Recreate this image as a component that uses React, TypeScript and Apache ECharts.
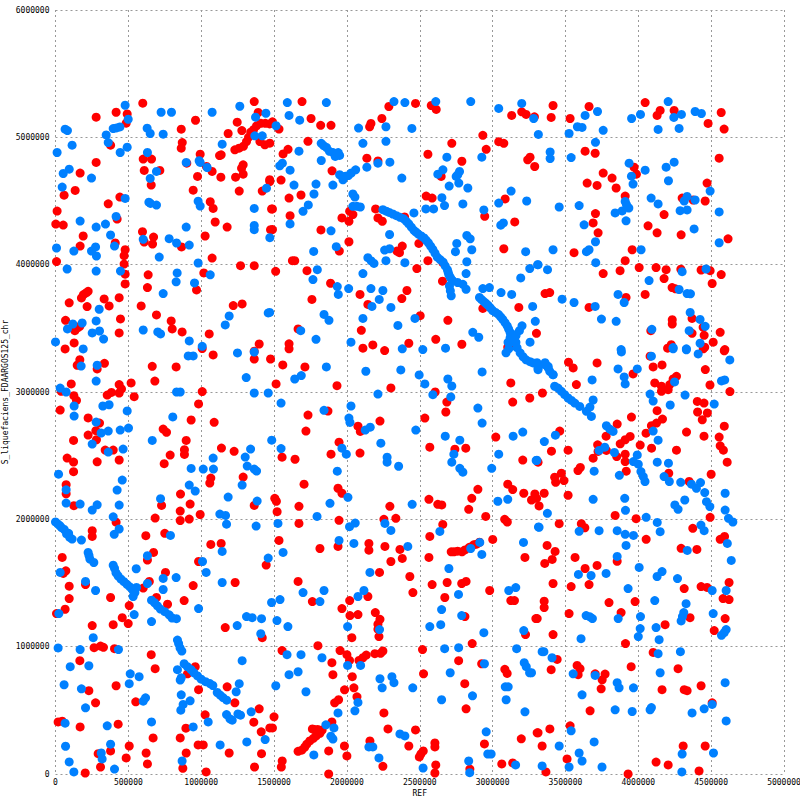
import React, { useEffect, useRef } from "react";
import * as echarts from "echarts";

// all positions are in kilobases: [REF, S_liquefaciens_FDAARGOS125_chr]
const redTopLeft = [[279,5158],[416,5197],[492,5184],[485,5111],[599,5268],[961,5134],[863,5064],[378,4938],[870,4959],[863,4915],[993,4868],[279,4803],[602,4829],[659,4829],[609,4740],[716,4740],[169,4719],[657,4625],[975,4693],[901,4797],[1126,4857],[1137,4863],[135,4583],[59,4546],[442,4531],[362,4478],[945,4585],[1062,4494],[1082,4442],[11,4421],[423,4358],[2,4319],[53,4311],[1096,4335],[1178,4295],[190,4225],[597,4259],[410,4170],[169,4146],[673,4217],[609,4178],[666,4162],[1027,4225],[865,4139],[478,4118],[471,4071],[471,4005],[7,4024],[1075,4052],[1270,3992],[1364,3992],[1364,5281],[1247,5119],[1185,5030],[1391,5195],[1279,5053],[1231,4902],[1260,4915],[1290,4930],[1311,4967],[1325,5000],[1340,5040],[1359,5060],[1380,5090],[1410,5110],[1440,5110],[1470,5105],[1403,4967],[1437,4941],[1471,4954],[1288,4784],[1277,4758],[1288,4711],[1236,4687],[1261,4578],[1419,4578],[1471,4653],[1483,4437],[1476,4275],[1075,4732],[1036,4771],[1135,4687]];
const blueTopLeft = [[478,5252],[499,5142],[66,5064],[82,5053],[396,5069],[419,5074],[442,5082],[629,5072],[650,5030],[739,5025],[348,5019],[362,4959],[725,5197],[796,5197],[1075,5197],[1265,5244],[1373,5158],[1444,5189],[114,4938],[11,4881],[444,4881],[492,4923],[631,4881],[1144,4946],[1368,5012],[1419,5012],[897,4803],[986,4816],[993,4803],[1041,4763],[693,4732],[650,4677],[53,4716],[94,4750],[247,4680],[46,4609],[478,4520],[641,4491],[652,4481],[693,4468],[979,4499],[993,4460],[1364,4442],[1448,4601],[169,4342],[416,4379],[343,4319],[279,4295],[897,4295],[1364,4308],[1364,4275],[378,4233],[602,4199],[780,4204],[831,4170],[918,4154],[1471,4212],[275,4139],[247,4107],[281,4068],[126,4107],[7,4131],[405,4146],[712,4060],[979,4013],[80,3966],[279,3950],[446,3950]];
const redMidLeft = [[478,3925],[636,3920],[478,3849],[631,3820],[1018,3935],[968,3802],[178,3739],[192,3765],[210,3778],[224,3791],[94,3700],[217,3671],[334,3731],[437,3741],[368,3676],[588,3676],[693,3605],[794,3558],[801,3495],[869,3472],[1220,3679],[1281,3692],[69,3563],[446,3574],[437,3464],[1055,3456],[167,3516],[133,3482],[151,3503],[128,3385],[66,3338],[1007,3341],[1364,3259],[1364,3320],[1398,3377],[1082,3291],[1476,3259],[167,3254],[149,3210],[286,3181],[336,3225],[664,3202],[828,3197],[682,3086],[108,3063],[437,3058],[453,3024],[437,2992],[384,2997],[355,2976],[519,3071],[540,2963],[39,3005],[126,2971],[144,2934],[1007,3003],[982,2906],[32,2858],[224,2796],[302,2756],[277,2696],[224,2662],[281,2625],[124,2620],[931,2780],[1089,2762],[739,2709],[762,2683],[897,2620],[1139,2560],[1226,2534],[885,2547],[885,2510],[787,2505],[341,2544],[396,2544],[437,2466],[286,2452],[746,2437],[80,2481],[124,2450],[124,2374],[1066,2324],[1059,2285],[1288,2332],[73,2272],[73,2201],[858,2198],[728,2109],[924,2120],[1364,2109],[126,2107],[856,2065],[684,2010],[856,1991],[918,2002],[993,2038],[416,1978]];
const blueMidLeft = [[835,3935],[828,3865],[954,3857],[1062,3920],[739,3773],[300,3650],[119,3534],[183,3542],[279,3558],[82,3495],[252,3464],[302,3479],[330,3416],[602,3487],[702,3472],[721,3456],[918,3401],[0,3393],[190,3338],[1007,3359],[911,3283],[945,3283],[1249,3307],[1364,3314],[1165,3527],[1192,3597],[1460,3621],[176,3204],[286,3210],[279,3086],[1309,3113],[32,3031],[73,3000],[831,3000],[856,3000],[1364,2992],[1460,2992],[128,2890],[325,2890],[368,2900],[492,2851],[128,2811],[805,2804],[279,2764],[313,2678],[362,2693],[444,2701],[501,2717],[664,2620],[252,2591],[362,2528],[464,2552],[1339,2552],[1302,2489],[1082,2481],[1316,2418],[1364,2395],[1380,2379],[21,2355],[931,2400],[1014,2395],[1084,2395],[458,2308],[918,2269],[959,2222],[1281,2269],[423,2230],[73,2232],[1185,2175],[721,2162],[1384,2143],[73,2128],[169,2120],[286,2114],[252,2073],[437,2112],[396,2020],[1128,2041],[1167,2031],[1174,1962],[1377,1947]];
const blueLowerLeft = [[0,1980],[15,1965],[30,1950],[41,1935],[60,1920],[76,1885],[90,1890],[98,1858],[114,1845],[178,1837],[403,1882],[437,1924],[789,1874],[224,1740],[230,1715],[236,1688],[263,1661],[396,1640],[405,1615],[415,1580],[430,1555],[450,1530],[470,1510],[490,1490],[510,1470],[530,1445],[545,1425],[533,1394],[556,1465],[631,1714],[554,1612],[631,1496],[739,1536],[828,1543],[739,1449],[32,1583],[206,1512],[275,1441],[1009,1669],[1034,1583],[1144,1748],[1144,1504],[1460,1696],[540,1252],[23,1260],[659,1197],[982,1299],[659,1365],[680,1345],[700,1320],[720,1295],[750,1275],[780,1250],[800,1225],[830,1220],[1247,1166],[1311,1236],[1350,1228],[1414,1220],[1483,1347],[259,1071],[1409,1102],[837,1052],[845,1025],[855,990],[867,965],[18,990],[169,977],[432,977],[101,843],[229,850],[513,787],[574,764],[506,709],[1281,890],[883,866],[905,843],[930,820],[950,795],[975,770],[1000,745],[1030,725],[1060,710],[1080,695],[837,819],[863,756],[856,738],[59,701],[178,669],[1261,709],[1240,646],[1110,640],[1130,620],[1150,600],[1175,580],[863,622],[924,575],[876,546],[860,501],[602,572],[618,598],[206,520],[1174,467],[1197,433],[1213,423],[1252,472],[1270,462],[1343,488],[66,399],[355,378],[659,409],[1048,409],[945,370],[1439,270],[1313,252],[1130,228],[69,218],[378,234],[314,165],[320,118],[94,95],[126,16],[405,39],[869,102]];
const redLowerLeft = [[252,1911],[252,1866],[620,1872],[750,1890],[1066,1803],[1137,1811],[46,1701],[71,1596],[53,1575],[631,1680],[673,1740],[982,1669],[1446,1641],[755,1583],[644,1512],[602,1460],[206,1488],[94,1475],[945,1480],[1233,1504],[94,1378],[378,1386],[693,1386],[883,1362],[769,1333],[506,1323],[66,1294],[7,1260],[458,1228],[252,1166],[396,1173],[499,1181],[1165,1150],[1419,1071],[265,992],[309,1005],[329,995],[405,984],[657,937],[167,890],[684,827],[959,843],[906,787],[1178,685],[982,662],[229,654],[416,693],[275,559],[551,567],[1231,559],[1398,512],[1027,465],[1361,407],[18,409],[46,415],[430,391],[169,370],[895,360],[1412,331],[1471,362],[670,283],[856,283],[506,220],[979,228],[1014,228],[378,181],[293,160],[485,126],[622,165],[897,165],[1192,165],[1414,160],[309,55],[631,79],[874,45],[1366,55],[204,8],[1034,16]];
const blueTopMiddle = [[1591,5273],[1859,5273],[1603,5172],[1676,5135],[1514,5091],[2323,5281],[2398,5273],[2610,5281],[2850,5281],[3042,5227],[3200,5266],[3282,5148],[2080,5073],[2268,5083],[2446,5070],[3314,5023],[2110,4953],[2268,4969],[1671,4891],[1824,4953],[1840,4935],[1860,4920],[1880,4890],[1905,4880],[1925,4870],[1950,4858],[1940,4880],[1920,4850],[1824,4818],[2686,4844],[2926,4844],[2137,4766],[2213,4797],[2295,4805],[1539,4776],[1557,4797],[1610,4742],[1950,4706],[1970,4690],[1990,4695],[2010,4700],[2030,4720],[2060,4745],[1973,4667],[2377,4680],[2624,4711],[2659,4745],[2761,4706],[2773,4732],[2750,4693],[2768,4641],[2702,4617],[2830,4602],[1637,4625],[1788,4633],[1904,4625],[1774,4555],[3127,4578],[2041,4555],[2055,4531],[2041,4458],[2069,4458],[2092,4453],[3042,4484],[3234,4500],[2652,4526],[2670,4464],[2796,4477],[1735,4469],[1699,4419],[2542,4438],[2595,4438],[2460,4406],[2940,4430],[1610,4320],[1891,4266],[1927,4141],[1772,4104],[2293,4237],[2823,4229],[2846,4203],[2754,4167],[2745,4102],[2857,4117],[3056,4310],[3074,4328],[3227,4102],[2823,4023],[2818,3930],[3193,3896],[3255,3969],[3309,4000],[2259,4115],[2293,4125],[2144,4055],[2167,4029],[2186,4010],[2268,4031],[2398,4016],[1797,3961],[1767,3883],[2110,3930],[1934,3828],[1941,3766],[2012,3812],[2165,3812],[2247,3797],[2222,3727],[2172,3672],[2302,3664],[1843,3609],[1877,3563],[2110,3578],[2467,3578],[2350,3523],[1683,3482],[1788,3414],[2028,3391],[2380,3339],[2521,3333],[2677,3344],[2933,3812],[2978,3820],[3058,3781],[3131,3766],[3275,3672],[3293,3555],[3257,3391],[2864,3469],[2905,3430],[1470,3625]];
const blueSyntenyA = [[2247,4432],[2270,4420],[2290,4410],[2315,4398],[2340,4385],[2365,4372],[2390,4360],[2408,4340],[2425,4320],[2442,4295],[2460,4270],[2475,4255],[2490,4240],[2510,4225],[2530,4210],[2545,4190],[2560,4170],[2575,4145],[2590,4120],[2605,4090],[2620,4060],[2640,4040],[2660,4020],[2675,3990],[2690,3960],[2695,3940],[2700,3920],[2710,3900],[2720,3880],[2727,3872],[2760,3860],[2796,3846],[2818,3807],[2716,3755],[2710,3795],[2704,3833]];
const blueSyntenyB = [[2910,3742],[2925,3725],[2940,3710],[2955,3695],[2970,3680],[2985,3660],[3000,3640],[3020,3625],[3040,3610],[3055,3590],[3070,3570],[3085,3545],[3100,3520],[3110,3495],[3120,3470],[3125,3450],[3130,3430],[3145,3410],[3160,3390],[3184,3482],[3161,3443],[3106,3390],[3111,3339],[3092,3308],[3134,3395],[3168,3348],[3189,3308],[3209,3277],[3230,3253],[3257,3238],[3305,3230],[3312,3175],[3360,3230],[3381,3191],[3415,3136],[3202,3520],[3154,3449],[3120,3425]];
const redTopMiddle = [[1692,5281],[1754,5148],[1820,5094],[1891,5094],[2288,5242],[2471,5266],[2579,5250],[2613,5219],[2240,5148],[2165,5109],[2156,5083],[3131,5172],[3200,5200],[3230,5180],[3287,5161],[1489,5122],[1534,5065],[2933,5016],[2720,4953],[3042,4966],[3077,4953],[2956,4906],[2556,4867],[2789,4812],[3241,4823],[3257,4844],[3289,4771],[1733,4969],[1596,4906],[1562,4870],[2137,4836],[1898,4737],[2647,4693],[2213,4815],[1548,4664],[1603,4523],[1685,4547],[2544,4539],[2585,4523],[3086,4516],[2946,4380],[1489,4438],[1610,4385],[1470,4667],[2197,4438],[2213,4367],[2243,4341],[2019,4420],[2041,4393],[1966,4367],[2014,4341],[2396,4375],[3152,4336],[1822,4273],[1489,4276],[2014,4180],[1948,4107],[3077,4125],[2380,4146],[2361,4094],[2343,4107],[2494,4167],[1642,4031],[1626,4031],[2556,4031],[2659,4016],[2480,3969],[1511,3948],[1726,3953],[1888,3854],[2656,3870],[1760,3727],[2090,3766],[2144,3688],[2377,3734],[2412,3797],[2933,3656],[3180,3664],[2503,3599],[2693,3563],[2099,3484],[1665,3495],[1603,3378],[1603,3339],[2178,3370],[2110,3344],[2425,3383],[2610,3414],[2789,3375],[3301,3461],[3150,3365],[3104,3352],[2259,3325]];
const blueTopRight = [[3525,5031],[3582,5083],[3614,5078],[3635,5172],[3720,5203],[3759,5055],[3395,4885],[3395,4833],[3539,4841],[3706,4961],[4205,5281],[3954,5148],[4015,5180],[4244,5156],[4296,5180],[4390,5203],[4433,5187],[4136,5062],[4280,5070],[3937,4797],[4047,4742],[4191,4766],[4246,4805],[3953,4695],[3964,4633],[4207,4659],[4493,4578],[4088,4523],[4136,4477],[4315,4500],[4335,4536],[4390,4508],[4287,4424],[4335,4430],[4555,4414],[3457,4453],[3594,4464],[3910,4497],[3919,4471],[3935,4445],[3841,4406],[3889,4422],[3916,4344],[3628,4313],[4383,4281],[4555,4172],[3706,4180],[3415,4117],[3644,4102],[3662,4117],[4019,4117],[3708,4016],[3377,3961],[3312,4000],[4301,3945],[4465,3966],[4074,3875],[4280,3805],[4335,3773],[4358,3771],[3477,3729],[3559,3703],[3861,3766],[3903,3703],[3704,3672],[3747,3573],[3848,3555],[4093,3492],[4356,3625],[4424,3570],[4459,3516],[4349,3482],[4424,3383],[4239,3349],[4330,3339],[3882,3333]];
const redTopRight = [[3415,5250],[3402,5156],[3532,5148],[3662,5242],[4047,5273],[4150,5211],[4246,5211],[4129,5172],[4569,5195],[4479,5109],[4589,5065],[3635,4891],[3704,4875],[4555,4836],[3971,4766],[3759,4719],[3820,4680],[3987,4711],[3649,4641],[3717,4622],[3848,4602],[4472,4641],[3910,4539],[4301,4523],[4376,4508],[4459,4500],[3706,4401],[4177,4393],[3690,4328],[4067,4305],[4129,4250],[4294,4234],[3724,4250],[4616,4203],[3559,4094],[3958,4117],[3910,4031],[3759,3930],[3875,3953],[4006,3977],[4122,3977],[4191,3961],[4292,3964],[4431,3958],[4493,3953],[4569,3922],[4177,3891],[4507,3852],[4232,3820],[4255,3810],[4047,3766],[3916,3742],[3360,3773],[3392,3781],[3662,3664],[4369,3578],[4233,3568],[4233,3534],[4086,3482],[4369,3461],[4445,3508],[4452,3445],[4562,3469],[4514,3391],[4226,3372],[4201,3344],[4456,3352],[4594,3333]];
const blueCentre = [[2130,3163],[2370,3173],[2496,3134],[1859,3197],[1642,3102],[1687,3129],[2535,3063],[2693,3102],[2720,3047],[2928,3158],[2213,2984],[2590,2979],[2713,2961],[1548,2913],[1843,2856],[2028,2890],[2899,2874],[2928,2756],[2014,2795],[2021,2761],[2126,2701],[2160,2724],[2473,2701],[2675,2653],[2775,2622],[3141,2653],[3207,2685],[1484,2622],[1548,2556],[1966,2559],[1996,2512],[2233,2598],[2734,2512],[2720,2449],[2276,2488],[2276,2449],[2355,2417],[1934,2378],[2775,2401],[2796,2370],[2994,2401],[3042,2512],[3299,2462],[1884,2126],[2007,2173],[2448,2118],[3036,2142],[3104,2157],[1795,2023],[1527,1968],[2018,1942],[2057,1971],[2261,1968],[2302,1913],[2638,1905],[3315,1940],[1946,1834],[2048,1811],[1562,1740],[2418,1787],[2850,1771],[2912,1819],[2926,1724],[3212,1819],[2700,1614],[2158,1583],[2766,1410],[1699,1425],[1843,1441],[2117,1441],[2076,1394],[1541,1370],[1815,1354],[3111,1441],[3159,1464],[2650,1291]];
const redCentre = [[1514,3063],[1932,3050],[2302,3032],[3125,3071],[1560,3213],[1712,3197],[2606,3000],[2686,2921],[2679,2843],[2535,2795],[3138,2921],[3255,2953],[1733,2819],[1870,2850],[2227,2772],[2076,2732],[2092,2690],[1719,2693],[1946,2606],[3022,2646],[2569,2567],[2741,2551],[2816,2559],[1891,2512],[2090,2520],[1555,2488],[1644,2472],[3207,2465],[1706,2276],[1939,2244],[1966,2205],[2899,2236],[3104,2276],[3138,2234],[3214,2205],[1505,2165],[1516,2142],[1671,2102],[2295,2102],[2563,2157],[2624,2118],[2651,2113],[2857,2165],[2836,2079],[3302,2165],[1521,2060],[1671,1968],[1946,1992],[2254,2000],[2336,2008],[2953,2023],[3083,2000],[3101,1979],[2658,1960],[2569,1866],[3001,1842],[1534,1834],[1815,1771],[1939,1787],[2151,1811],[2151,1758],[2261,1787],[2364,1764],[2380,1693],[2302,1669],[2563,1701],[3222,1701],[2224,1583],[2716,1745],[2735,1745],[2760,1750],[2790,1745],[2810,1760],[2840,1780],[2870,1800],[2890,1805],[2910,1820],[1665,1512],[2432,1551],[2585,1488],[2688,1504],[2788,1496],[2818,1512],[2980,1441],[2453,1425],[2019,1362],[2144,1394],[1763,1354],[2672,1386],[3125,1362],[3150,1362],[1966,1299]];
const blueBottomMiddle = [[1520,1205],[1595,1158],[2005,1158],[2224,1134],[2788,1244],[2569,1158],[2644,1173],[2940,1110],[3214,1126],[1589,937],[1685,937],[1829,913],[2005,853],[2094,853],[2671,984],[2767,992],[3165,984],[3352,961],[2944,866],[3217,874],[3231,843],[3254,795],[2709,795],[1665,803],[1603,780],[2227,748],[2309,764],[2323,717],[2242,677],[2452,677],[1512,693],[1719,646],[3087,685],[3107,685],[2862,614],[3093,583],[2650,583],[2076,562],[2055,496],[1939,480],[3222,488],[1856,386],[1911,362],[1890,297],[1904,275],[2364,315],[2398,299],[2956,331],[2151,213],[2178,213],[1773,150],[2220,126],[2836,102],[2967,157],[2990,157],[2523,47],[3158,71],[2843,10]];
const redBottomMiddle = [[2195,1268],[2021,1244],[2076,1252],[2227,1215],[2213,1176],[2213,1137],[2220,1079],[2034,1071],[2810,1236],[3297,1221],[3226,1095],[1555,969],[1801,1008],[1953,969],[2519,977],[2860,1024],[2000,937],[2018,892],[1897,874],[1904,780],[2037,764],[2192,945],[2247,966],[2231,948],[2133,934],[2110,913],[2083,892],[2767,890],[2925,866],[2526,787],[3084,822],[3100,790],[2809,709],[2048,677],[1984,661],[2069,606],[1943,583],[1916,559],[2254,480],[2818,512],[1500,449],[1489,362],[1897,409],[2282,354],[2471,346],[1665,178],[1690,187],[1710,210],[1725,235],[1745,260],[1770,280],[1790,300],[1815,320],[1830,345],[1800,350],[1775,350],[1763,354],[1875,181],[1983,220],[2000,142],[2158,260],[2425,220],[2944,236],[3197,276],[3306,323],[2604,244],[2604,213],[2524,181],[2497,134],[2508,157],[1556,102],[1550,55],[2247,60],[1875,0],[2610,71],[2604,8],[2844,39],[3063,79],[3138,87]];
const blueBottomRight = [[3594,1906],[3731,1911],[3855,1911],[3910,1882],[3967,1874],[4150,1903],[4452,1911],[3916,1795],[4611,1811],[4638,1677],[4336,1756],[3855,1709],[4006,1622],[3589,1567],[3676,1559],[3779,1575],[4129,1551],[4163,1590],[4269,1535],[3930,1456],[4603,1441],[4507,1441],[4113,1362],[4328,1338],[4514,1260],[3642,1244],[3668,1234],[3685,1221],[3862,1221],[4015,1236],[4312,1268],[4303,1236],[4294,1202],[4013,1142],[4122,1150],[4603,1134],[4589,1110],[4571,1089],[3607,1063],[4000,1079],[4143,1055],[3340,961],[3408,913],[4136,945],[4289,961],[3267,795],[3553,787],[3704,774],[4150,795],[3855,717],[3868,677],[3967,677],[4596,717],[3614,622],[3841,504],[3958,491],[4081,504],[4090,522],[4369,480],[4452,512],[4507,546],[4603,417],[3539,339],[3697,252],[3457,220],[3594,165],[3614,102],[4301,157],[4516,165],[3340,63],[3525,55],[3751,55],[4299,16]];
const redBottomRight = [[4054,1843],[4294,1772],[4402,1764],[4562,1843],[4592,1866],[3374,1795],[3429,1748],[3409,1685],[3358,1654],[3566,1701],[3855,1670],[3635,1614],[3717,1638],[3415,1496],[3539,1472],[3662,1488],[4623,1504],[4315,1456],[4431,1472],[4472,1465],[3354,1357],[3354,1307],[3799,1346],[3978,1354],[4582,1378],[4623,1370],[3306,1221],[3525,1260],[3882,1268],[4596,1221],[4355,1228],[4184,1173],[4521,1126],[3415,1095],[3912,1024],[4102,955],[3443,900],[3402,819],[3580,853],[3600,827],[3587,780],[3704,787],[3772,785],[3752,740],[3951,843],[4273,827],[3745,669],[4163,662],[4315,662],[4335,654],[4431,693],[3669,496],[4507,559],[3532,378],[3312,323],[3393,354],[3340,220],[4308,220],[4459,220],[3511,118],[4122,94],[4205,71],[4417,24],[3930,0],[3366,16]];
const blueRightBand = [[3278,3228],[3312,3189],[3358,3215],[3381,3202],[3392,3163],[3415,3136],[3426,3045],[3449,3031],[3472,3005],[3495,2979],[3518,2953],[3541,2934],[3564,2913],[3598,2887],[3884,3315],[3861,3181],[3683,3095],[3903,3118],[3910,3063],[3993,3181],[4090,3281],[4239,3339],[4330,3331],[4411,3299],[4628,3252],[4571,3087],[4593,3095],[4249,3079],[4321,2976],[4081,2984],[4102,2929],[4219,2898],[4521,2905],[3690,2937],[3668,2882],[3644,2848],[3678,2808],[3781,2735],[3804,2709],[3827,2690],[4102,2693],[4136,2622],[3431,2661],[3355,2611],[3304,2464],[3731,2541],[3770,2567],[3836,2525],[3993,2506],[3966,2454],[4000,2433],[4018,2375],[4034,2336],[4046,2297],[4130,2449],[4207,2441],[3697,2378],[3870,2346],[4177,2336],[4213,2297],[4291,2291],[4365,2276],[4399,2244],[4427,2289],[4456,2210],[4468,2139],[4491,2100],[4596,2205],[3690,2157],[3907,2165],[4319,2152],[4251,2113],[4273,2079],[4596,2073],[4619,2008],[4649,1979],[3912,2071],[4054,2016],[4130,1976],[3376,2047],[3319,1937],[4430,1955]];
const redRightBand = [[3521,3234],[3553,3189],[3717,3228],[3575,3058],[3342,2992],[4102,3197],[4163,3213],[3964,3142],[4460,3176],[4492,3055],[4629,3003],[4081,3281],[4590,3323],[4446,3339],[4113,3071],[4159,3045],[4159,3005],[4205,3018],[4216,3058],[4262,3123],[4239,3102],[4405,2926],[4451,2913],[4407,2843],[4474,2835],[4439,2782],[4129,2853],[3953,2803],[4166,2787],[4125,2756],[4090,2735],[4053,2677],[3855,2748],[3779,2653],[4331,2685],[4451,2653],[4590,2732],[4555,2646],[4562,2577],[4584,2543],[4610,2449],[3944,2651],[3910,2625],[3876,2593],[3461,2693],[4013,2583],[4091,2559],[4262,2543],[3721,2585],[3404,2535],[3518,2543],[3312,2449],[3690,2480],[3724,2533],[3781,2541],[3910,2512],[3852,2493],[3910,2454],[3917,2378],[3586,2383],[3602,2407],[3472,2362],[3426,2331],[3433,2291],[3490,2304],[4209,2362],[4500,2354],[4349,2297],[3267,2152],[3290,2199],[3354,2205],[3518,2189],[3319,2105],[3841,2031],[3985,2005],[4493,2016],[3457,1966],[3609,1966],[3633,1934],[4374,1929]];

const redGroups = [redTopLeft, redMidLeft, redLowerLeft, redTopMiddle, redTopRight, redCentre, redBottomMiddle, redBottomRight, redRightBand];
const blueGroups = [blueTopLeft, blueMidLeft, blueLowerLeft, blueTopMiddle, blueSyntenyA, blueSyntenyB, blueTopRight, blueCentre, blueBottomMiddle, blueBottomRight, blueRightBand];

const toBases = (groups: number[][][]) => groups.flat().map(([x, y]) => [x * 1000, y * 1000]);

const labelFont = { fontFamily: "DejaVu Sans Mono", fontSize: 8, color: "#000" };
const gridLine = { show: true, lineStyle: { color: "#999", type: [2, 3] as number[], width: 1 } };
const plain = (v: number) => String(v);

export default function App() {
  const ref = useRef<HTMLDivElement>(null);
  useEffect(() => {
    const chart = echarts.init(ref.current!, null, { renderer: "svg" });
    chart.setOption({
      animation: false,
      backgroundColor: "#fff",
      grid: { left: 55.5, top: 10, width: 728.5, height: 764, containLabel: false, outerBoundsMode: "none" },
      xAxis: {
        type: "value", min: 0, max: 5000000, interval: 500000,
        name: "REF", nameLocation: "middle", nameGap: 15, nameMoveOverlap: false,
        nameTextStyle: { fontFamily: "DejaVu Sans Mono", fontSize: 8, color: "#000" },
        axisLine: { show: false }, axisTick: { show: false },
        axisLabel: { ...labelFont, margin: 4, formatter: plain, showMinLabel: true, showMaxLabel: true, hideOverlap: false },
        splitLine: gridLine,
      },
      yAxis: {
        type: "value", min: 0, max: 6000000, interval: 1000000,
        name: "S_liquefaciens_FDAARGOS125_chr", nameLocation: "middle", nameGap: 46, nameMoveOverlap: false,
        nameTextStyle: { fontFamily: "DejaVu Sans Mono", fontSize: 8, color: "#000" },
        axisLine: { show: false }, axisTick: { show: false },
        axisLabel: { ...labelFont, margin: 6, formatter: plain, showMinLabel: true, showMaxLabel: true, hideOverlap: false },
        splitLine: gridLine,
      },
      series: [
        { type: "scatter", name: "forward", data: toBases(redGroups), symbol: "circle", symbolSize: 9, itemStyle: { color: "#ff0000", opacity: 1 }, large: false, clip: false },
        { type: "scatter", name: "reverse", data: toBases(blueGroups), symbol: "circle", symbolSize: 9, itemStyle: { color: "#0080ff", opacity: 1 }, large: false, clip: false },
      ],
    });
    return () => chart.dispose();
  }, []);
  return <div ref={ref} style={{ position: "fixed", left: 0, top: 0, width: 800, height: 800 }} />;
}
